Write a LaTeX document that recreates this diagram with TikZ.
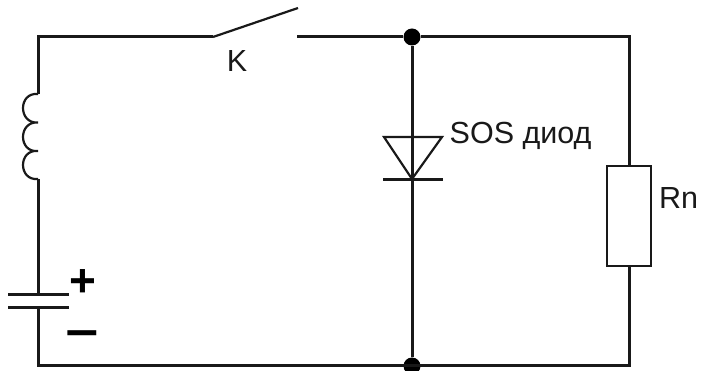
\documentclass[tikz,border=0pt]{standalone}
\usepackage{fontspec}
\setmainfont{Liberation Sans}
\begin{document}
\begin{tikzpicture}[x=1pt,y=-1pt,
  wire/.style={line width=3pt,black!90},
  thin wire/.style={line width=2.2pt,black!90},
  junction/.style={circle,fill=black,inner sep=0pt,minimum size=17pt},
  lab/.style={font=\fontsize{30.5}{34}\selectfont,inner sep=0pt,text=black!90},
  sign/.style={font=\bfseries\fontsize{46}{46}\selectfont,inner sep=0pt,text=black}]
\useasboundingbox (0,0) rectangle (702,371);
\fill[white] (0,0) rectangle (702,371);
\coordinate (tl) at (38,37);
\coordinate (bl) at (38,366);
\coordinate (tr) at (629,37);
\coordinate (br) at (629,366);
\coordinate (swa) at (213,37);
\coordinate (swb) at (298,8);
\coordinate (swc) at (297,37);
\coordinate (la) at (38,94);
\coordinate (lb) at (38,179);
\coordinate (ca) at (38,295);
\coordinate (cb) at (38,308);
\coordinate (cal) at (8,295);
\coordinate (car) at (69,295);
\coordinate (cbl) at (8,308);
\coordinate (cbr) at (69,308);
\node[junction] (jt) at (412,37) {};
\node[junction] (jb) at (412,366) {};
\node[draw=black!90,line width=2.4pt,fill=white,minimum width=44pt,minimum height=100pt,inner sep=0pt] (rn) at (629,216) {};
% wires
\draw[wire] (swa) -- (tl) -- (la);
\draw[thin wire] (swa) -- (swb);
\draw[wire] (swc) -- (jt) -- (tr) -- (rn.north);
\draw[wire] (rn.south) -- (br) -- (bl) -- (cb);
\draw[wire] (ca) -- (lb);
\draw[wire] (jt) -- (jb);
% inductor
\draw[thin wire] (la) .. controls (18,92) and (18,124) .. (38,122.5)
                      .. controls (18,121) and (18,153) .. (38,151)
                      .. controls (18,149) and (18,181) .. (lb);
% capacitor
\draw[wire] (cal) -- (car);
\draw[wire] (cbl) -- (cbr);
% diode
\coordinate (dl) at (384,137);
\coordinate (dr) at (442,137);
\coordinate (da) at (412,179);
\coordinate (bl2) at (383,180);
\coordinate (br2) at (443,180);
\draw[thin wire,line join=miter] (dl) -- (dr) -- (da) -- cycle;
\draw[wire] (bl2) -- (br2);
% labels
\node[lab] (k) at (237,61) {K};
\node[lab,anchor=west] (sos) at (449.5,136) {SOS диод};
\node[lab,anchor=west] (rl) at (659,198) {Rn};
\node[sign] (plus) at (83,283) {+};
\node[sign] (minus) at (82.5,340) {\scalebox{1.25}[1]{−}};
\end{tikzpicture}
\end{document}
